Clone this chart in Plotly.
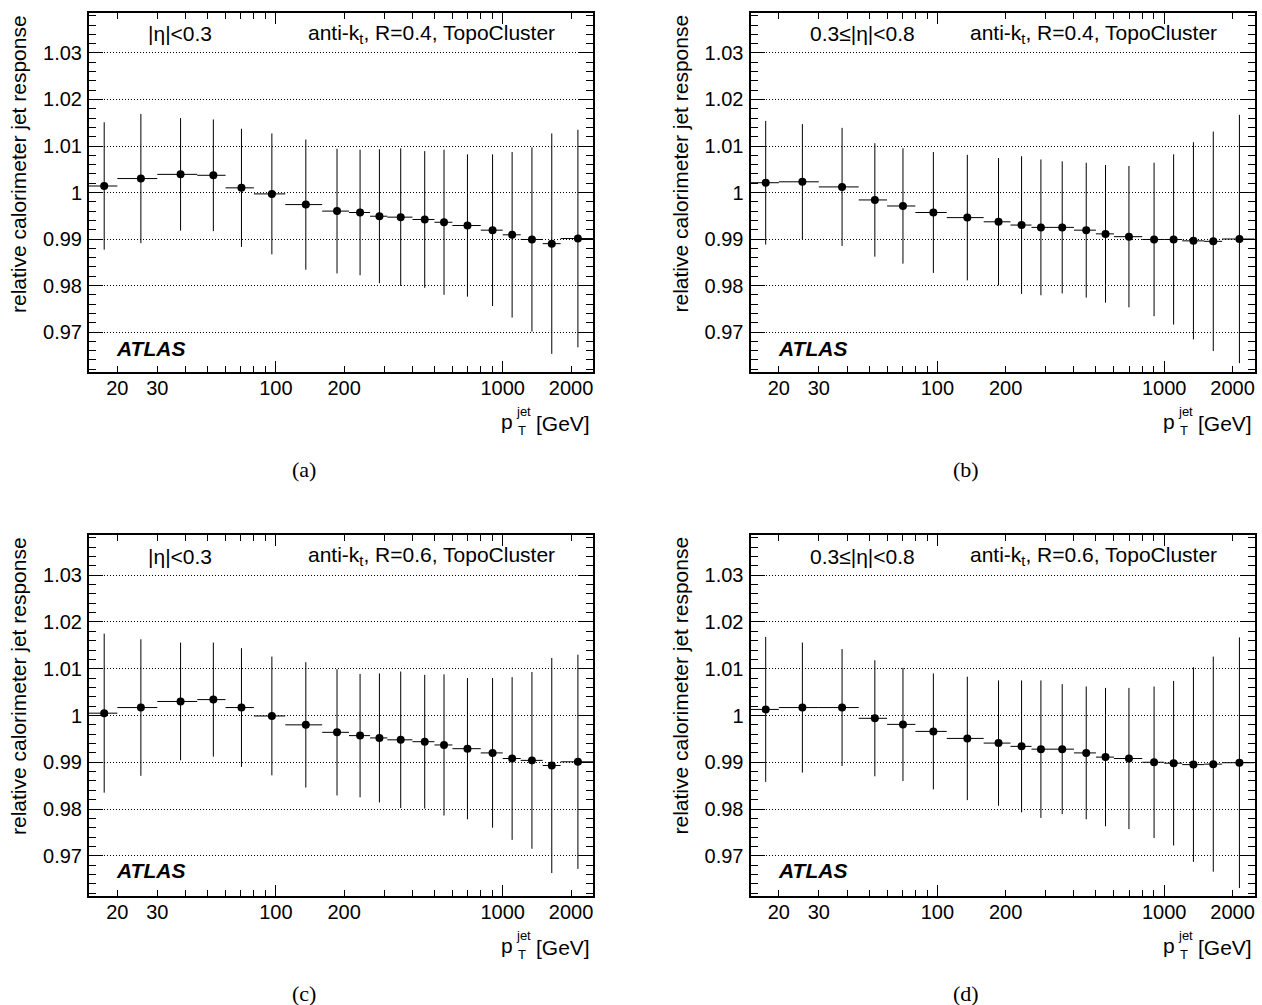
import numpy as np
import plotly.graph_objects as go

# ---------------- data ----------------
pt_mean = [17.5, 25.4, 38.0, 53.0, 70.5, 96.0, 135.5, 186.0, 235.0, 286.0,
           355.0, 453.0, 551.0, 699.0, 902.0, 1100.0, 1345.0, 1645.0, 2145.0]
bin_edges = [15, 20, 30, 45, 60, 80, 110, 160, 210, 260, 310, 400, 500, 600,
             800, 1000, 1200, 1500, 1800, 2500]

resp_a = [1.0014, 1.0030, 1.0039, 1.0037, 1.0010, 0.9997, 0.9974, 0.9960, 0.9957, 0.9949,
          0.9947, 0.9942, 0.9936, 0.9929, 0.9919, 0.9909, 0.9899, 0.9890, 0.9901]
err_a = [0.0137, 0.0139, 0.0121, 0.0120, 0.0127, 0.0130, 0.0140, 0.0134, 0.0135, 0.0144,
         0.0148, 0.0147, 0.0156, 0.0153, 0.0163, 0.0178, 0.0198, 0.0237, 0.0234]

resp_b = [1.0021, 1.0023, 1.0012, 0.9984, 0.9971, 0.9957, 0.9946, 0.9937, 0.9930, 0.9925,
          0.9925, 0.9919, 0.9911, 0.9905, 0.9899, 0.9899, 0.9896, 0.9895, 0.9900]
err_b = [0.0133, 0.0124, 0.0127, 0.0122, 0.0124, 0.0130, 0.0135, 0.0137, 0.0148, 0.0146,
         0.0142, 0.0145, 0.0148, 0.0152, 0.0165, 0.0183, 0.0212, 0.0236, 0.0267]

resp_c = [1.0005, 1.0017, 1.0030, 1.0034, 1.0017, 0.9999, 0.9980, 0.9964, 0.9957, 0.9952,
          0.9948, 0.9944, 0.9937, 0.9929, 0.9920, 0.9908, 0.9904, 0.9893, 0.9901]
err_c = [0.0170, 0.0146, 0.0126, 0.0122, 0.0127, 0.0127, 0.0134, 0.0135, 0.0132, 0.0138,
         0.0146, 0.0143, 0.0151, 0.0151, 0.0160, 0.0174, 0.0189, 0.0230, 0.0229]

resp_d = [1.0013, 1.0017, 1.0017, 0.9994, 0.9981, 0.9966, 0.9951, 0.9941, 0.9934, 0.9928,
          0.9928, 0.9920, 0.9911, 0.9908, 0.9900, 0.9898, 0.9895, 0.9896, 0.9899]
err_d = [0.0155, 0.0139, 0.0125, 0.0124, 0.0121, 0.0124, 0.0132, 0.0134, 0.0141, 0.0147,
         0.0139, 0.0142, 0.0148, 0.0151, 0.0162, 0.0176, 0.0208, 0.0230, 0.0268]

eta_labels = ["|η|<0.3", "0.3≤|η|<0.8", "|η|<0.3", "0.3≤|η|<0.8"]
jet_labels = ["anti-k<sub>t</sub>, R=0.4, TopoCluster", "anti-k<sub>t</sub>, R=0.4, TopoCluster",
              "anti-k<sub>t</sub>, R=0.6, TopoCluster", "anti-k<sub>t</sub>, R=0.6, TopoCluster"]
panel_tags = ["(a)", "(b)", "(c)", "(d)"]
x_tickvals = [20, 30, 100, 200, 1000, 2000]
x_ticktext = ["20", "30", "100", "200", "1000", "2000"]
y_tickvals = [0.97, 0.98, 0.99, 1.0, 1.01, 1.02, 1.03]
y_ticktext = ["0.97", "0.98", "0.99", "1", "1.01", "1.02", "1.03"]

# ---------------- layout geometry (pixels) ----------------
W, H = 1262, 1005
frames = [  # left, right, top, bottom
    (89, 593, 13, 372),
    (750.5, 1254.5, 13, 372),
    (89, 593, 535, 896),
    (750.5, 1254.5, 535, 896),
]
FONT = "Liberation Sans, Arial, Helvetica, sans-serif"


def px(x):
    return x / W


def py(y):
    return 1 - y / H


xrange_log = [np.log10(15), np.log10(2500)]
yrange = [0.9614, 1.0386]
x_minor = [40, 50, 60, 70, 80, 90, 300, 400, 500, 600, 700, 800, 900]
y_minor = [round(v, 3) for v in np.arange(0.962, 1.0381, 0.002)
           if min(abs(v - t) for t in y_tickvals) > 1e-6]

fig = go.Figure()
lo = np.array(bin_edges[:-1])
hi = np.array(bin_edges[1:])
xm = np.array(pt_mean)
data = [(resp_a, err_a), (resp_b, err_b), (resp_c, err_c), (resp_d, err_d)]

layout = dict(width=W, height=H, autosize=False, margin=dict(l=0, r=0, t=0, b=0),
              paper_bgcolor="white", plot_bgcolor="white", showlegend=False,
              font=dict(family=FONT, color="black", size=20))
annotations = []

for i, ((l, r, t, b), (resp, err)) in enumerate(zip(frames, data)):
    n = i + 1
    xa = "x" if n == 1 else f"x{n}"
    ya = "y" if n == 1 else f"y{n}"
    fig.add_trace(go.Scatter(
        x=xm, y=resp, xaxis=xa, yaxis=ya, mode="markers",
        marker=dict(color="black", size=8, symbol="circle"),
        error_y=dict(type="data", array=err, visible=True, color="black", thickness=1, width=0),
        error_x=dict(type="data", symmetric=False, array=hi - xm, arrayminus=xm - lo,
                     visible=True, color="black", thickness=1, width=0),
        hoverinfo="x+y"))
    # overlay axis for long major ticks at 100 and 1000
    on = n + 4
    fig.add_trace(go.Scatter(x=[], y=[], xaxis=f"x{on}", yaxis=ya, showlegend=False,
                             hoverinfo="skip"))

    common_ax = dict(showline=True, linecolor="black", linewidth=2, mirror="ticks",
                     ticks="inside", tickcolor="black", zeroline=False)
    layout[f"xaxis{'' if n == 1 else n}"] = dict(
        domain=[px(l), px(r)], anchor=ya, type="log", range=xrange_log,
        tickvals=x_tickvals, ticktext=x_ticktext, ticklen=6, tickwidth=1,
        minor=dict(tickvals=x_minor, ticklen=6, tickwidth=1, ticks="inside", tickcolor="black"),
        showgrid=False, tickfont=dict(size=20, family=FONT), ticklabelstandoff=-3,
        **common_ax)
    layout[f"xaxis{on}"] = dict(
        overlaying=xa, anchor=ya, type="log", range=xrange_log,
        tickvals=[100, 1000], ticklen=11, tickwidth=1, ticks="inside", tickcolor="black",
        mirror="ticks", showline=False, showticklabels=False, showgrid=False, zeroline=False)
    layout[f"yaxis{'' if n == 1 else n}"] = dict(
        domain=[py(b), py(t)], anchor=xa, range=yrange,
        tickvals=y_tickvals, ticktext=y_ticktext, ticklen=14, tickwidth=1,
        minor=dict(tickvals=y_minor, ticklen=7, tickwidth=1, ticks="inside", tickcolor="black"),
        showgrid=True, gridcolor="black", gridwidth=1, griddash="1px,2px",
        tickfont=dict(size=20, family=FONT), ticklabelstandoff=1,
        **common_ax)

    # texts
    annotations.append(dict(text=eta_labels[i], x=px(l + 57), y=py(t + 21), xref="paper", yref="paper",
                            xanchor="left", yanchor="middle", showarrow=False, font=dict(size=21)))
    annotations.append(dict(text=jet_labels[i], x=px(l + 217), y=py(t + 21), xref="paper", yref="paper",
                            xanchor="left", yanchor="middle", showarrow=False, font=dict(size=21)))
    annotations.append(dict(text="<b><i>ATLAS</i></b>", x=px(l + 25), y=py(t + 335), xref="paper",
                            yref="paper", xanchor="left", yanchor="middle", showarrow=False,
                            font=dict(size=21)))
    # x title: p_T^jet [GeV]
    annotations.append(dict(text="[GeV]", x=px(r - 1), y=py(b + 51), xref="paper", yref="paper",
                            xanchor="right", yanchor="middle", showarrow=False, font=dict(size=21)))
    annotations.append(dict(text="p", x=px(r - 78), y=py(b + 49), xref="paper", yref="paper",
                            xanchor="right", yanchor="middle", showarrow=False, font=dict(size=21)))
    annotations.append(dict(text="jet", x=px(r - 79), y=py(b + 39), xref="paper", yref="paper",
                            xanchor="left", yanchor="middle", showarrow=False, font=dict(size=13)))
    annotations.append(dict(text="T", x=px(r - 77), y=py(b + 58), xref="paper", yref="paper",
                            xanchor="left", yanchor="middle", showarrow=False, font=dict(size=13)))
    # y title
    annotations.append(dict(text="relative calorimeter jet response", x=px(l - 71), y=py(t),
                            xref="paper", yref="paper", xanchor="center", yanchor="top",
                            textangle=-90, showarrow=False, font=dict(size=21)))
    # panel tag
    annotations.append(dict(text=panel_tags[i], x=px(l + 215), y=py(b + 97), xref="paper", yref="paper",
                            xanchor="center", yanchor="middle", showarrow=False,
                            font=dict(size=22, family="Liberation Serif, DejaVu Serif, serif")))

layout["annotations"] = annotations
fig.update_layout(**layout)
fig.write_html("out.html", config={"displayModeBar": False},
               post_script="document.body.style.margin='0px';document.body.style.overflow='hidden';")
